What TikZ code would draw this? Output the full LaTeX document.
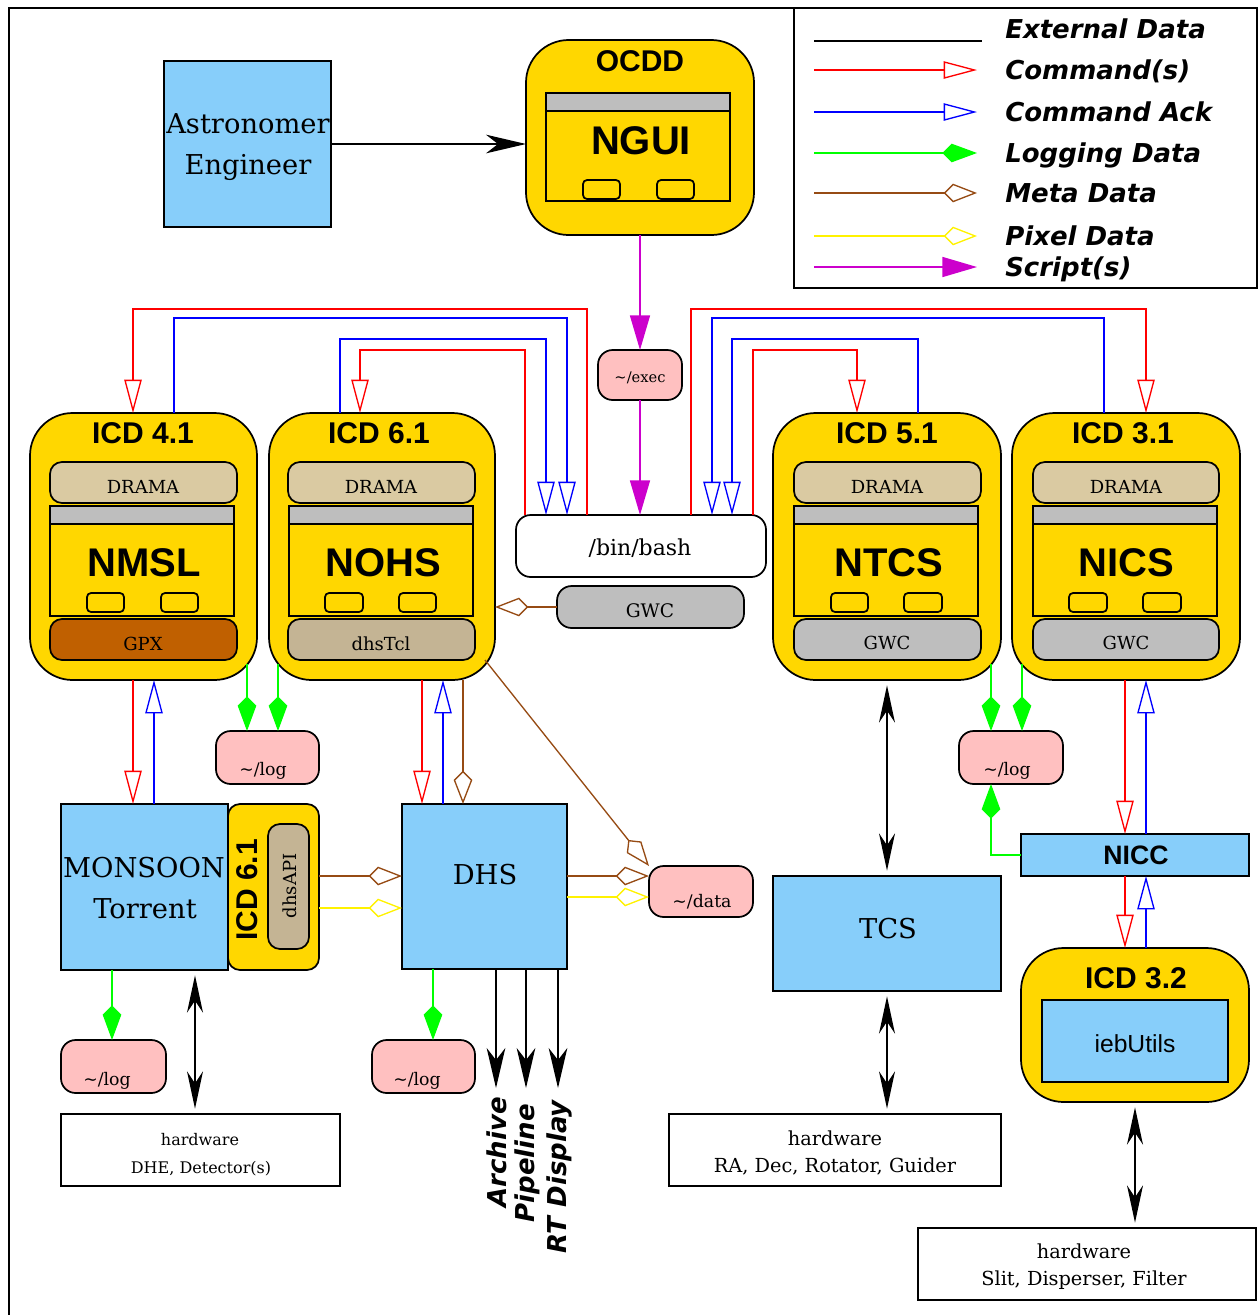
\documentclass[tikz,border=0pt]{standalone}
\usepackage{fontspec}
\setmainfont{DejaVu Serif}
\newfontfamily\hvfont{Liberation Sans}
\newfontfamily\dvsfont{DejaVu Sans}
\usepackage{tikz}
\usetikzlibrary{arrows.meta}
\usetikzlibrary{fit}
\usetikzlibrary{calc}

\definecolor{gold}{RGB}{255,215,0}
\definecolor{skyb}{RGB}{135,206,250}
\definecolor{dramaf}{RGB}{218,202,162}
\definecolor{tclf}{RGB}{196,180,148}
\definecolor{gpxf}{RGB}{192,96,0}
\definecolor{barg}{RGB}{190,190,190}
\definecolor{pinkf}{RGB}{255,192,192}
\definecolor{metab}{RGB}{150,75,20}
\definecolor{scrm}{RGB}{204,0,204}
\definecolor{logg}{RGB}{0,255,0}

\tikzset{
  shp/.style={draw=black, line width=1.3pt, inner sep=0pt, outer sep=0pt},
  icdbox/.style={shp, fill=gold, rounded corners=32pt},
  pill/.style={shp, rounded corners=9pt},
  cardb/.style={shp, fill=gold},
  barb/.style={shp, fill=barg},
  keyb/.style={shp, fill=gold, rounded corners=3pt},
  filebox/.style={shp, fill=pinkf, rounded corners=11pt},
  sysbox/.style={shp, fill=skyb},
  hwbox/.style={shp, fill=white},
  bigt/.style={font=\hvfont\bfseries\fontsize{30}{36}\selectfont, inner sep=0pt, anchor=base},
  icdt/.style={font=\hvfont\bfseries\fontsize{22.5}{27}\selectfont, inner sep=0pt, anchor=base},
  sysT/.style={font=\fontsize{20.5}{25}\selectfont, inner sep=0pt, anchor=base},
  smallt/.style={font=\fontsize{13.5}{16}\selectfont, inner sep=0pt, anchor=base},
  filet/.style={font=\fontsize{13}{16}\selectfont, inner sep=0pt, anchor=base},
  hwt/.style={font=\fontsize{14.5}{18}\selectfont, inner sep=0pt, anchor=base},
  legt/.style={font=\dvsfont\bfseries\itshape\fontsize{19.5}{23}\selectfont, inner sep=0pt, anchor=base west},
  outt/.style={font=\dvsfont\bfseries\itshape\fontsize{19.5}{23}\selectfont, inner sep=0pt, anchor=east, rotate=90},
  cmd/.style={draw=red, line width=1pt, -{Triangle[open, length=25pt, width=13pt]}},
  ack/.style={draw=blue, line width=1pt, -{Triangle[open, length=25pt, width=13pt]}},
  logd/.style={draw=logg, line width=1pt, -{Kite[length=26pt, width=14pt, inset=7pt]}},
  metad/.style={draw=metab, line width=1pt, -{Kite[open, length=25pt, width=14pt, inset=7pt]}},
  pixd/.style={draw=yellow, line width=1pt, -{Kite[open, length=25pt, width=14pt, inset=7pt]}},
  scr/.style={draw=scrm, line width=1.2pt, -{Triangle[length=26pt, width=15pt]}},
  extd/.style={draw=black, line width=1pt, -{Stealth[length=30pt, width=14pt, inset=9pt]}},
  extdd/.style={draw=black, line width=1pt, {Stealth[length=28pt, width=12pt, inset=9pt]}-{Stealth[length=28pt, width=12pt, inset=9pt]}, shorten <=4pt, shorten >=4pt}
}

\begin{document}
\begin{tikzpicture}[x=0.75pt,y=0.75pt,yscale=-1,xscale=1]
\useasboundingbox (0,0) rectangle (1258,1315);

%Frame
\draw[line width=1.5pt] (9,1315) -- (9,8) -- (1258,8) ;
%Legend
\draw[line width=1.5pt] (794,8) rectangle (1257,288) ;
\coordinate (lgA) at (814,41) ;
\coordinate (lgB) at (982,41) ;
\draw[line width=1pt] (lgA) -- (lgB) ;
\node[legt] (lgT) at (1005,38) {External Data};
\foreach \yy/\sty/\txt in {70/cmd/Command(s), 112/ack/Command Ack, 153/logd/Logging Data, 193/metad/Meta Data, 236/pixd/Pixel Data, 267/scr/Script(s)}
{
  \coordinate (lgA\yy) at (814,\yy) ;
  \coordinate (lgB\yy) at (977,\yy) ;
  \draw[\sty] (lgA\yy) -- (lgB\yy) ;
  \node[legt] (lgT\yy) at (1005,\yy+9.5) {\txt};
}

%Rectangle: Astronomer
\node[sysbox, fit={(164,61) (331,227)}] (astro) {};
% Text Node
\node[sysT] (astroT1) at (248,133) {Astronomer};
\node[sysT] (astroT2) at (248,174) {Engineer};

%Rounded Rect: OCDD
\node[icdbox, fit={(526,40) (754,235)}] (ocdd) {};
\node[cardb, fit={(546,93) (730,201)}] (ngui) {};
\node[barb, fit={(546,93) (730,111)}] (nguibar) {};
\node[keyb, fit={(583,180) (620,199)}] (nguik1) {};
\node[keyb, fit={(657,180) (694,199)}] (nguik2) {};
% Text Node
\node[icdt] (ocddT) at (640,71) {OCDD};
\node[bigt] (nguiT) at (641,154) {NGUI};

%Rounded Rect: exec, bash, GWC
\node[filebox, fit={(598,350) (682,400)}] (exec) {};
\node[pill, fill=white, rounded corners=11pt, fit={(516,515) (766,577)}] (bash) {};
\node[pill, fill=barg, rounded corners=11pt, fit={(557,586) (744,628)}] (gwc) {};
% Text Node
\node[font=\fontsize{11}{13}\selectfont, inner sep=0pt, anchor=base] (execT) at (640,382) {\textasciitilde/exec};
\node[font=\fontsize{16.5}{20}\selectfont, inner sep=0pt, anchor=base] (bashT) at (640,555) {/bin/bash};
\node[font=\fontsize{14}{17}\selectfont, inner sep=0pt, anchor=base] (gwcT) at (650,617) {GWC};

%Rounded Rect: ICD 4.1
\node[icdbox, fit={(30,413) (257,680)}] (icd41) {};
\node[pill, fill=dramaf, fit={(50,462) (237,503)}] (drama41) {};
\node[cardb, fit={(50,506) (234,616)}] (nmsl) {};
\node[barb, fit={(50,506) (234,524)}] (nmslbar) {};
\node[keyb, fit={(87,593) (124,612)}] (nmslk1) {};
\node[keyb, fit={(161,593) (198,612)}] (nmslk2) {};
\node[pill, fill=gpxf, fit={(50,619) (237,660)}] (gpx) {};
% Text Node
\node[icdt] (icd41T) at (143,443) {ICD 4.1};
\node[smallt] (drama41T) at (143,493) {DRAMA};
\node[bigt] (nmslT) at (144,576) {NMSL};
\node[smallt] (gpxT) at (143,650) {GPX};

%Rounded Rect: ICD 6.1
\node[icdbox, fit={(269,413) (495,680)}] (icd61) {};
\node[pill, fill=dramaf, fit={(288,462) (475,503)}] (drama61) {};
\node[cardb, fit={(289,506) (473,616)}] (nohs) {};
\node[barb, fit={(289,506) (473,524)}] (nohsbar) {};
\node[keyb, fit={(325,593) (363,612)}] (nohsk1) {};
\node[keyb, fit={(399,593) (436,612)}] (nohsk2) {};
\node[pill, fill=tclf, fit={(288,619) (475,660)}] (dhstcl) {};
% Text Node
\node[icdt] (icd61T) at (379,443) {ICD 6.1};
\node[smallt] (drama61T) at (381,493) {DRAMA};
\node[bigt] (nohsT) at (383,576) {NOHS};
\node[smallt] (dhstclT) at (381,650) {dhsTcl};

%Rounded Rect: ICD 5.1
\node[icdbox, fit={(773,413) (1001,680)}] (icd51) {};
\node[pill, fill=dramaf, fit={(794,462) (981,503)}] (drama51) {};
\node[cardb, fit={(794,506) (978,616)}] (ntcs) {};
\node[barb, fit={(794,506) (978,524)}] (ntcsbar) {};
\node[keyb, fit={(831,593) (868,612)}] (ntcsk1) {};
\node[keyb, fit={(904,593) (942,612)}] (ntcsk2) {};
\node[pill, fill=barg, fit={(794,619) (981,660)}] (gwc51) {};
% Text Node
\node[icdt] (icd51T) at (887,443) {ICD 5.1};
\node[smallt] (drama51T) at (887,493) {DRAMA};
\node[bigt] (ntcsT) at (889,576) {NTCS};
\node[smallt] (gwc51T) at (887,649) {GWC};

%Rounded Rect: ICD 3.1
\node[icdbox, fit={(1012,413) (1240,680)}] (icd31) {};
\node[pill, fill=dramaf, fit={(1033,462) (1219,503)}] (drama31) {};
\node[cardb, fit={(1033,506) (1217,616)}] (nics) {};
\node[barb, fit={(1033,506) (1217,524)}] (nicsbar) {};
\node[keyb, fit={(1069,593) (1107,612)}] (nicsk1) {};
\node[keyb, fit={(1143,593) (1181,612)}] (nicsk2) {};
\node[pill, fill=barg, fit={(1033,619) (1219,660)}] (gwc31) {};
% Text Node
\node[icdt] (icd31T) at (1123,443) {ICD 3.1};
\node[smallt] (drama31T) at (1126,493) {DRAMA};
\node[bigt] (nicsT) at (1126,576) {NICS};
\node[smallt] (gwc31T) at (1126,649) {GWC};

%Rounded Rect: log files
\node[filebox, fit={(216,731) (319,784)}] (log2) {};
\node[filebox, fit={(959,731) (1063,784)}] (log5) {};
\node[filebox, fit={(61,1040) (166,1093)}] (log3) {};
\node[filebox, fit={(372,1040) (475,1093)}] (log4) {};
\node[filebox, fit={(649,866) (753,917)}] (data) {};
% Text Node
\node[filet] (log2T) at (263,775) {\textasciitilde/log};
\node[filet] (log5T) at (1007,775) {\textasciitilde/log};
\node[filet] (log3T) at (107,1085) {\textasciitilde/log};
\node[filet] (log4T) at (417,1085) {\textasciitilde/log};
\node[filet] (dataT) at (702,907) {\textasciitilde/data};

%Rectangle: MONSOON with ICD 6.1
\node[shp, fill=gold, rounded corners=9pt, fit={(228,804) (319,970)}] (icd61v) {};
\node[pill, fill=tclf, fit={(268,824) (309,949)}] (dhsapi) {};
\node[sysbox, fit={(61,804) (228,970)}] (mons) {};
% Text Node
\node[sysT] (monsT1) at (144,877) {MONSOON};
\node[sysT] (monsT2) at (145,918) {Torrent};
\node[font=\hvfont\bfseries\fontsize{22.5}{27}\selectfont, inner sep=0pt, rotate=90] (icd61vT) at (247,890) {ICD 6.1};
\node[font=\fontsize{13.5}{16}\selectfont, inner sep=0pt, rotate=90] (dhsapiT) at (290,886) {dhsAPI};

%Rectangle: DHS, TCS, NICC
\node[sysbox, fit={(402,804) (567,969)}] (dhs) {};
\node[sysbox, fit={(773,876) (1001,991)}] (tcs) {};
\node[sysbox, fit={(1021,834) (1249,876)}] (nicc) {};
% Text Node
\node[sysT] (dhsT) at (485,884) {DHS};
\node[sysT] (tcsT) at (888,938) {TCS};
\node[font=\hvfont\bfseries\fontsize{20}{24}\selectfont, inner sep=0pt, anchor=base] (niccT) at (1136,864) {NICC};

%Rounded Rect: ICD 3.2
\node[icdbox, fit={(1021,948) (1249,1102)}] (icd32) {};
\node[sysbox, fit={(1042,1000) (1228,1082)}] (ieb) {};
% Text Node
\node[icdt] (icd32T) at (1136,988) {ICD 3.2};
\node[font=\hvfont\fontsize{18.5}{22}\selectfont, inner sep=0pt, anchor=base] (iebT) at (1135,1052) {iebUtils};

%Rectangle: hardware
\node[hwbox, fit={(61,1114) (340,1186)}] (hw1) {};
\node[hwbox, fit={(669,1114) (1001,1186)}] (hw2) {};
\node[hwbox, fit={(918,1228) (1256,1300)}] (hw3) {};
% Text Node
\node[font=\fontsize{12}{14}\selectfont, inner sep=0pt, anchor=base] (hw1T1) at (200,1145) {hardware};
\node[font=\fontsize{12}{14}\selectfont, inner sep=0pt, anchor=base] (hw1T2) at (201,1173) {DHE, Detector(s)};
\node[hwt] (hw2T1) at (835,1145) {hardware};
\node[hwt] (hw2T2) at (835,1172) {RA, Dec, Rotator, Guider};
\node[hwt] (hw3T1) at (1084,1258) {hardware};
\node[hwt] (hw3T2) at (1084,1285) {Slit, Disperser, Filter};

%Straight Lines: external and scripts
\draw[extd] (astro.east) -- (astro.east -| ocdd.west) ;
\draw[scr] (ocdd.south) -- (ocdd.south |- exec.north) ;
\draw[scr] (exec.south) -- (exec.south |- bash.north) ;

%Straight Lines: commands through /bin/bash
\draw[cmd] (bash.north -| 587,0) |- (133,309) -- (icd41.north -| 133,0) ;
\draw[ack] (icd41.north -| 174,0) |- (567,318) -- (bash.north -| 567,0) ;
\draw[ack] (icd61.north -| 340,0) |- (546,339) -- (bash.north -| 546,0) ;
\draw[cmd] (bash.north -| 525,0) |- (360,350) -- (icd61.north -| 360,0) ;
\draw[cmd] (bash.north -| 691,0) |- (1146,309) -- (icd31.north -| 1146,0) ;
\draw[ack] (icd31.north -| 1104,0) |- (712,318) -- (bash.north -| 712,0) ;
\draw[ack] (icd51.north -| 918,0) |- (732,339) -- (bash.north -| 732,0) ;
\draw[cmd] (bash.north -| 753,0) |- (857,350) -- (icd51.north -| 857,0) ;

%Straight Lines: meta data
\draw[metad] (gwc.west) -- (gwc.west -| icd61.east) ;
\draw[metad] ($(icd61.south east)+(-10,-20)$) -- (data.north west) ;

%Straight Lines: ICD 4.1 and MONSOON
\draw[cmd] (icd41.south -| 133,0) -- (mons.north -| 133,0) ;
\draw[ack] (mons.north -| 154,0) -- (icd41.south -| 154,0) ;
\draw[logd] ($(icd41.south east)+(-10,-16)$) -- (log2.north -| 247,0) ;
\draw[logd] ($(icd61.south west)+(9,-16)$) -- (log2.north -| 278,0) ;
\draw[logd] (mons.south -| 112,0) -- (log3.north -| 112,0) ;
\draw[extdd] (mons.south -| 195,0) -- (hw1.north -| 195,0) ;

%Straight Lines: ICD 6.1 and DHS
\draw[cmd] (icd61.south -| 422,0) -- (dhs.north -| 422,0) ;
\draw[ack] (dhs.north -| 443,0) -- (icd61.south -| 443,0) ;
\draw[metad] (icd61.south -| 463,0) -- (dhs.north -| 463,0) ;
\draw[metad] (icd61v.east |- 0,876) -- (dhs.west |- 0,876) ;
\draw[pixd] (icd61v.east |- 0,908) -- (dhs.west |- 0,908) ;
\draw[metad] (dhs.east |- 0,876) -- (data.west |- 0,876) ;
\draw[pixd] (dhs.east |- 0,897) -- (data.west |- 0,897) ;
\draw[logd] (dhs.south -| 433,0) -- (log4.north -| 433,0) ;

%Straight Lines: DHS outputs
\coordinate (outA) at (496,1088) ;
\coordinate (outB) at (526,1088) ;
\coordinate (outC) at (558,1088) ;
\draw[extd] (dhs.south -| outA) -- (outA) ;
\draw[extd] (dhs.south -| outB) -- (outB) ;
\draw[extd] (dhs.south -| outC) -- (outC) ;
% Text Node
\node[outt] (outAT) at (497,1097) {Archive};
\node[outt] (outBT) at (527,1104) {Pipeline};
\node[outt] (outCT) at (559,1100) {RT Display};

%Straight Lines: ICD 5.1, TCS
\draw[extdd] (icd51.south) -- (icd51.south |- tcs.north) ;
\draw[extdd] (tcs.south) -- (tcs.south |- hw2.north) ;
\draw[logd] ($(icd51.south east)+(-10,-16)$) -- (log5.north -| 991,0) ;
\draw[logd] ($(icd31.south west)+(10,-16)$) -- (log5.north -| 1022,0) ;

%Straight Lines: ICD 3.1, NICC, ICD 3.2
\draw[logd] (nicc.west) -| (log5.south -| 991,0) ;
\draw[cmd] (icd31.south -| 1125,0) -- (nicc.north -| 1125,0) ;
\draw[ack] (nicc.north -| 1146,0) -- (icd31.south -| 1146,0) ;
\draw[cmd] (nicc.south -| 1125,0) -- (icd32.north -| 1125,0) ;
\draw[ack] (icd32.north -| 1146,0) -- (nicc.south -| 1146,0) ;
\draw[extdd] (icd32.south) -- (icd32.south |- hw3.north) ;

\end{tikzpicture}
\end{document}
